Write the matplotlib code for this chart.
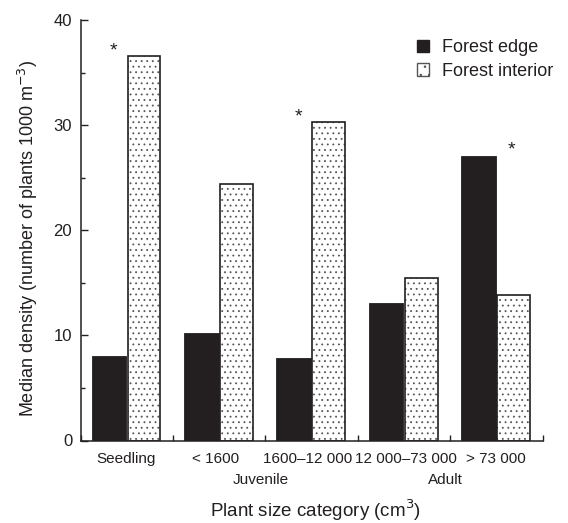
import numpy as np
import matplotlib
matplotlib.use("Agg")
import matplotlib.pyplot as plt
from matplotlib.patches import Patch
from matplotlib.transforms import blended_transform_factory

plt.rcParams['font.family'] = ['Liberation Sans', 'DejaVu Sans']
plt.rcParams['hatch.linewidth'] = 0.6
plt.rcParams['hatch.color'] = '#555555'

categories = ["Seedling", "< 1600", "1600\u201312 000", "12 000\u201373 000", "> 73 000"]
edge = [8.05, 10.2, 7.85, 13.05, 27.05]
interior = [36.6, 24.4, 30.3, 15.5, 13.85]
sig_series = ["interior", None, "interior", None, "edge"]
stage_labels = ["Juvenile", "Adult"]
stage_pos = [2, 4]
series_names = ["Forest edge", "Forest interior"]

dark = '#231f20'
dots = '#555555'

fig = plt.figure(figsize=(5.68, 5.23), dpi=100)
ax = fig.add_axes([80.5/568, (523-440.5)/523, 462/568, 420.5/523])

x = np.arange(len(categories))
ax.bar(x + 0.307, edge, width=0.375, color=dark, edgecolor=dark, linewidth=0.6, zorder=2)
ax.bar(x + 0.687, interior, width=0.355, color='white', edgecolor=dots,
       hatch='...', linewidth=0, zorder=2)
ax.bar(x + 0.687, interior, width=0.355, fill=False, edgecolor=dark, linewidth=1.2, zorder=3)

for i, s in enumerate(sig_series):
    if s == "interior":
        ax.text(i + 0.355, interior[i] + 0.45, '*', ha='center', va='center', fontsize=14, color=dark)
    elif s == "edge":
        ax.text(i + 0.667, edge[i] + 0.6, '*', ha='center', va='center', fontsize=14, color=dark)

ax.set_xlim(0, 5)
ax.set_ylim(0, 40)
ax.spines['top'].set_visible(False)
ax.spines['right'].set_visible(False)
for sp in ['left', 'bottom']:
    ax.spines[sp].set_color(dark)
    ax.spines[sp].set_linewidth(1.1)

ax.set_yticks([0, 10, 20, 30, 40])
ax.set_yticks([5, 15, 25, 35], minor=True)
ax.tick_params(axis='y', which='major', direction='in', length=5, width=1, colors=dark,
               labelsize=12, pad=6)
ax.tick_params(axis='y', which='minor', direction='in', length=3, width=1, colors=dark)
ax.set_xticks(np.arange(len(categories) + 1))
ax.set_xticklabels([])
ax.tick_params(axis='x', which='major', direction='in', length=4, width=1, colors=dark)

trans = blended_transform_factory(ax.transData, fig.transFigure)
cat_dx = [0.49, 0.46, 0.46, 0.52, 0.5]
for i, c in enumerate(categories):
    ax.text(i + cat_dx[i], 1 - 459/523, c, transform=trans, ha='center', va='center',
            fontsize=11, color=dark)
for p, s in zip(stage_pos, stage_labels):
    ax.text(p - 0.05, 1 - 480/523, s, transform=trans, ha='center', va='center',
            fontsize=11, color=dark)

fig.text(316/568, 1 - 510/523, 'Plant size category (cm$^{3}$)', ha='center', va='center',
         fontsize=13.5, color=dark)
fig.text(28/568, 1 - 238/523, 'Median density (number of plants 1000 m$^{\u22123}$)',
         rotation=90, ha='center', va='center', fontsize=13, color=dark)

handles = [Patch(facecolor=dark, edgecolor=dark),
           Patch(facecolor='white', edgecolor=dots, hatch='..')]
leg = fig.legend(handles, series_names, loc='upper left',
                 bbox_to_anchor=(417/568, 1 - 39.5/523), frameon=False, fontsize=13,
                 handlelength=0.65, handleheight=0.65, handletextpad=0.75,
                 labelspacing=0.35, borderpad=0, borderaxespad=0)
for t in leg.get_texts():
    t.set_color(dark)

fig.savefig('out.png', dpi=100)
